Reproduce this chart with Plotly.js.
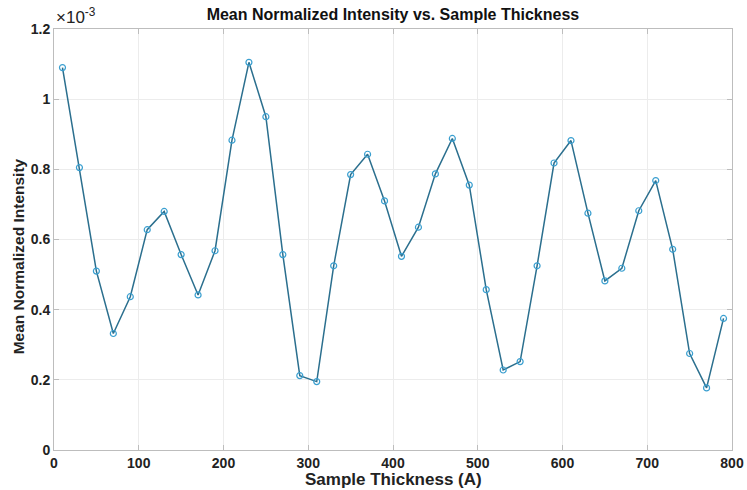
<!DOCTYPE html>
<html>
<head>
<meta charset="utf-8">
<script src="https://cdn.plot.ly/plotly-3.0.1.min.js"></script>
<style>html,body{margin:0;padding:0;background:#fff;}#chart{width:747px;height:490px;}</style>
</head>
<body>
<div id="chart"></div>
<script>
// Sample thickness (A)
var thickness = [10,30,50,70,90,110,130,150,170,190,210,230,250,270,290,310,330,350,370,390,
                 410,430,450,470,490,510,530,550,570,590,610,630,650,670,690,710,730,750,770,790];
// Mean normalized intensity, in units of 1e-3
var intensity = [1.09,0.805,0.51,0.332,0.437,0.628,0.68,0.557,0.442,0.568,
                 0.883,1.105,0.95,0.557,0.212,0.195,0.525,0.785,0.843,0.71,
                 0.552,0.635,0.787,0.888,0.755,0.457,0.228,0.252,0.525,0.818,
                 0.882,0.675,0.482,0.518,0.682,0.768,0.572,0.275,0.177,0.375];
var xTicks = [0,100,200,300,400,500,600,700,800];
var yTicks = [0,0.2,0.4,0.6,0.8,1,1.2];
var yTickText = ['0','0.2','0.4','0.6','0.8','1','1.2'];

var fam = 'Liberation Sans, Arial, sans-serif';

var trace = {
  x: thickness, y: intensity, type:'scatter', mode:'lines+markers',
  line:{color:'#2b6f8e', width:1.5},
  marker:{symbol:'circle-open', size:6, color:'#3a9fd0', line:{width:1.2, color:'#3a9fd0'}},
  showlegend:false
};

var axisCommon = {
  showline:true, linecolor:'#bdbdbd', linewidth:1, mirror:'ticks',
  ticks:'inside', ticklen:5, tickcolor:'#bdbdbd',
  showgrid:true, gridcolor:'#ececec', gridwidth:1, zeroline:false,
  tickfont:{family:fam, size:14, color:'#222', weight:'bold'}
};

var layout = {
  width:747, height:490,
  margin:{l:54, r:15, t:29, b:40},
  paper_bgcolor:'#fff', plot_bgcolor:'#fff',
  title:{text:'Mean Normalized Intensity vs. Sample Thickness',
         font:{family:fam, size:16, color:'#111', weight:'bold'},
         x:0.526, xanchor:'center', y:0.982, yanchor:'top'},
  xaxis: Object.assign({}, axisCommon, {
    range:[0,800], tickvals:xTicks, ticktext:xTicks.map(String)
  }),
  yaxis: Object.assign({}, axisCommon, {
    range:[0,1.2], tickvals:yTicks, ticktext:yTickText
  }),
  annotations:[
    {xref:'paper', yref:'paper', x:0, y:1, xanchor:'left', yanchor:'bottom', xshift:0, yshift:0,
     text:'×10<sup>-3</sup>', showarrow:false,
     font:{family:fam, size:17, color:'#222'}},
    {xref:'paper', yref:'paper', x:0.5, y:-0.07, xanchor:'center', yanchor:'middle',
     text:'Sample Thickness (A)', showarrow:false,
     font:{family:fam, size:17, color:'#222', weight:'bold'}},
    {xref:'paper', yref:'paper', x:0, y:0.46, xanchor:'center', yanchor:'middle', xshift:-36,
     text:'Mean Normalized Intensity', textangle:-90, showarrow:false,
     font:{family:fam, size:15.5, color:'#222', weight:'bold'}}
  ]
};

Plotly.newPlot('chart', [trace], layout, {staticPlot:true, displayModeBar:false});
</script>
</body>
</html>
